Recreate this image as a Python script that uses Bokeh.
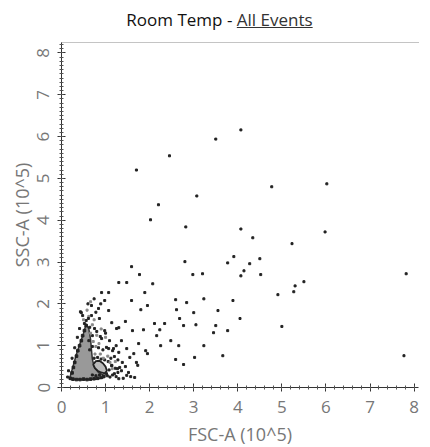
from bokeh.plotting import figure
from bokeh.layouts import column
from bokeh.models import Div, LinearAxis, SingleIntervalTicker, FixedTicker, Range1d
from bokeh.embed import file_html
from bokeh.resources import INLINE

# scattered events (FSC-A, SSC-A in units of 10^5)
out_x = [4.07, 3.50, 2.45, 1.70, 3.07, 2.20, 2.02, 2.82, 4.07, 3.91, 2.80, 3.77, 1.59,
         4.77, 6.02, 5.98, 4.34, 5.23, 4.50, 4.27, 4.14, 4.07, 4.52, 5.50, 5.30, 5.27,
         4.91, 7.82, 4.05, 5.00, 7.77, 3.55, 3.89, 3.77, 3.66, 3.50,
         1.77, 2.98, 3.20, 1.30, 1.48, 2.07, 1.07, 1.89, 3.23, 1.59, 2.59, 2.84, 0.89,
         1.95, 1.80, 3.00, 2.61, 2.68, 0.43, 2.11, 2.34, 2.77, 3.05, 3.45, 1.30, 1.45,
         1.61, 1.86, 2.23, 3.23, 2.66, 2.48, 2.25, 2.16, 1.75, 1.91, 2.59, 2.77, 3.02,
         1.73, 1.52, 1.27, 1.57, 1.30, 1.02, 1.95, 1.64, 1.18,
         0.91, 0.68, 0.84, 1.07, 0.98, 0.61, 0.86, 1.14, 0.75, 0.98, 1.25, 0.91, 1.09,
         1.36, 0.84, 1.07, 1.30, 1.48, 1.55, 1.70, 1.14, 1.32, 1.20, 1.48, 1.66, 0.45,
         0.41, 0.52]
out_y = [6.16, 5.94, 5.54, 5.20, 4.58, 4.37, 4.01, 3.84, 3.79, 3.13, 3.01, 2.98, 2.89,
         4.80, 4.87, 3.72, 3.58, 3.44, 3.08, 2.96, 2.79, 2.67, 2.70, 2.53, 2.43, 2.29,
         2.22, 2.72, 1.65, 1.46, 0.76, 1.84, 2.08, 1.36, 0.76, 1.48,
         2.70, 2.70, 2.72, 2.51, 2.51, 2.48, 2.27, 2.27, 2.12, 2.08, 2.10, 2.03, 2.00,
         1.96, 1.86, 1.79, 1.86, 1.65, 1.81, 1.53, 1.53, 1.48, 1.50, 1.31, 1.43, 1.58,
         1.36, 1.38, 1.38, 1.00, 1.00, 1.12, 1.00, 1.24, 1.05, 0.88, 0.67, 0.55, 0.72,
         0.53, 0.36, 0.45, 0.26, 0.21, 0.33, 0.81, 0.81, 0.93,
         2.27, 1.96, 1.89, 1.84, 2.08, 1.65, 1.65, 1.55, 1.41, 1.36, 1.41, 1.17, 1.12,
         1.12, 0.95, 0.93, 0.84, 0.93, 0.72, 0.60, 0.53, 0.48, 0.33, 0.29, 0.24, 1.79,
         1.41, 1.53]

# dark events crowding around the main population
near_x = [0.70, 0.78, 0.86, 1.04, 1.10, 1.16, 1.24, 1.40, 0.74, 0.82, 0.90, 0.98,
          1.06, 1.12, 1.20, 1.28, 1.38, 1.45, 1.36, 1.28, 1.08, 1.14, 1.22, 0.64,
          0.70, 0.94, 1.02, 1.16, 1.24, 0.62, 0.70, 0.80, 0.88, 1.00, 0.64, 0.56,
          0.68, 0.78, 0.48, 0.60, 0.74, 0.36, 0.30, 0.24, 0.16, 0.14]
near_y = [0.30, 0.28, 0.30, 0.28, 0.25, 0.30, 0.26, 0.22, 0.70, 0.72, 0.68, 0.66,
          0.62, 0.70, 0.74, 0.66, 0.60, 0.50, 0.40, 0.36, 0.42, 0.52, 0.46, 0.90,
          0.98, 0.90, 0.96, 0.88, 1.00, 1.12, 1.24, 1.34, 1.22, 1.30, 1.44, 1.60,
          1.72, 1.80, 1.72, 2.00, 2.12, 1.20, 0.95, 0.70, 0.40, 0.25]

# grey events just above the dense population
mid_x = [0.66, 0.72, 0.78, 0.70, 0.80, 0.76, 0.88, 0.95, 1.05, 0.62, 0.74, 0.85,
         1.10, 1.15, 1.22, 0.50, 0.58, 0.66, 0.90, 1.00]
mid_y = [1.30, 1.10, 0.98, 1.50, 1.25, 0.80, 0.80, 0.70, 0.75, 1.70, 1.62, 1.05,
         0.60, 0.45, 0.62, 1.62, 1.85, 2.05, 1.40, 1.20]

# dense population (outer contour) and its edge
core_x = [0.18, 0.26, 0.34, 0.42, 0.50, 0.56, 0.62, 0.66, 0.68, 0.70, 0.74, 0.84,
          0.94, 0.98, 0.80, 0.50, 0.25]
core_y = [0.20, 0.50, 0.80, 1.05, 1.30, 1.52, 1.40, 1.15, 0.90, 0.68, 0.50, 0.36,
          0.30, 0.24, 0.20, 0.19, 0.19]
edge_x = [0.20, 0.24, 0.27, 0.30, 0.34, 0.37, 0.41, 0.45, 0.48, 0.52, 0.56,
          0.26, 0.34, 0.42, 0.50, 0.58, 0.66, 0.74, 0.82, 0.90, 0.96]
edge_y = [0.22, 0.35, 0.48, 0.60, 0.75, 0.88, 1.00, 1.12, 1.24, 1.36, 1.48,
          0.20, 0.19, 0.19, 0.20, 0.19, 0.20, 0.21, 0.22, 0.24, 0.27]

# second population contour
lobe_x = [0.72, 0.78, 0.86, 0.94, 1.00, 1.03, 0.98, 0.90, 0.82, 0.76]
lobe_y = [0.55, 0.63, 0.64, 0.58, 0.50, 0.40, 0.34, 0.36, 0.40, 0.46]

FONT = "Open Sans"

title = Div(text="<div style=\"font-family:'Open Sans';font-size:17px;color:#111;"
                 "text-align:center;width:400px;padding-left:29px;line-height:30px;\">"
                 "Room Temp - <u style='color:#333'>All Events</u></div>",
            width=414, height=24)

p = figure(frame_width=357, frame_height=345,
           x_range=Range1d(0, 8.1), y_range=Range1d(0, 8.25),
           output_backend="svg", toolbar_location=None,
           min_border_left=61, min_border_right=1,
           min_border_top=8, min_border_bottom=52)
p.grid.visible = False
p.outline_line_color = None

p.patch(core_x, core_y, fill_color="#999999", line_color="#333333", line_width=1.5)
p.patch(lobe_x, lobe_y, fill_color="#bbbbbb", line_color="#222222", line_width=1.8)
p.scatter(edge_x, edge_y, marker="square", size=2.6, color="#222222")
p.scatter(near_x, near_y, marker="square", size=2, color="#222222")
p.scatter(mid_x, mid_y, marker="square", size=2, color="#888888")
p.scatter(out_x, out_y, marker="square", size=2, color="#222222")

p.xaxis.ticker = SingleIntervalTicker(interval=1, num_minor_ticks=5)
p.yaxis.ticker = SingleIntervalTicker(interval=1, num_minor_ticks=10)
p.xaxis.axis_label = "FSC-A (10^5)"
p.yaxis.axis_label = "SSC-A (10^5)"
p.yaxis.major_label_orientation = "vertical"

for ax in (p.xaxis[0], p.yaxis[0]):
    ax.axis_line_color = "#333333"
    ax.major_tick_line_color = "#333333"
    ax.minor_tick_line_color = "#555555"
    ax.major_tick_in = 4
    ax.major_tick_out = 4
    ax.minor_tick_in = 2
    ax.minor_tick_out = 2
    ax.major_label_text_font = FONT
    ax.major_label_text_font_size = "17px"
    ax.major_label_text_color = "#777777"
    ax.axis_label_text_font = FONT
    ax.axis_label_text_font_size = "18px"
    ax.axis_label_text_font_style = "normal"
    ax.axis_label_text_color = "#777777"

p.xaxis.major_label_standoff = 9
p.xaxis.axis_label_standoff = 6
p.yaxis.major_label_standoff = 8
p.yaxis.axis_label_standoff = 1

top = LinearAxis(ticker=FixedTicker(ticks=[]), axis_line_color="#888888",
                 axis_line_dash="1 1")
p.add_layout(top, "above")

layout = column(title, p)
open("out.html", "w").write(file_html(layout, INLINE))
